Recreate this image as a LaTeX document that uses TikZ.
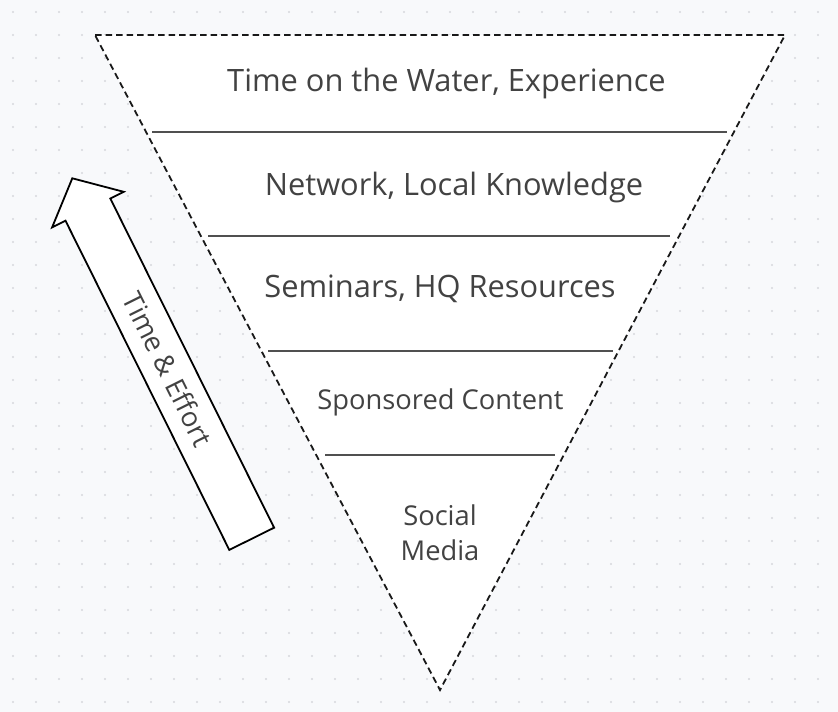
\documentclass[tikz,border=0pt]{standalone}
\usepackage{fontspec}
\setmainfont{Open Sans}
\definecolor{bg}{RGB}{248,249,251}
\definecolor{dotc}{RGB}{214,216,220}
\definecolor{txt}{RGB}{66,66,66}
\definecolor{sep}{RGB}{80,80,80}
\begin{document}
\begin{tikzpicture}[x=1pt,y=-1pt,
  lvl/.style={text=txt,font=\fontsize{30.8}{36}\selectfont,inner sep=0pt,anchor=base},
  lvlsmall/.style={text=txt,font=\fontsize{27.3}{35}\selectfont,inner sep=0pt,anchor=base},
  sepline/.style={draw=sep,line width=2pt},
  funnel/.style={draw=black!90,fill=white,line width=1.8pt,dash pattern=on 6.5pt off 4pt},
  bigarrow/.style={draw=black,fill=white,line width=1.8pt,line join=miter}]
\useasboundingbox (0,0) rectangle (838,712);
\fill[bg] (0,0) rectangle (838,712);
\foreach \i in {0,...,36} {
  \foreach \j in {0,...,30} {
    \fill[dotc] ({13+23*\i},{12+23*\j}) circle (1.2pt);
  }
}
% funnel
\coordinate (tl) at (95,35);
\coordinate (tr) at (785,35);
\coordinate (bt) at (440,690);
\draw[funnel] (tl) -- (tr) -- (bt) -- cycle;
% separators
\coordinate (s1a) at (152,132); \coordinate (s1b) at (727,132);
\coordinate (s2a) at (208,236); \coordinate (s2b) at (670,236);
\coordinate (s3a) at (268,351); \coordinate (s3b) at (613,351);
\coordinate (s4a) at (325,455); \coordinate (s4b) at (555,455);
\draw[sepline] (s1a) -- (s1b);
\draw[sepline] (s2a) -- (s2b);
\draw[sepline] (s3a) -- (s3b);
\draw[sepline] (s4a) -- (s4b);
% labels
\node[lvl] (l1) at (446.5,91) {Time on the Water, Experience};
\node[lvl] (l2) at (454,195) {Network, Local Knowledge};
\node[lvl] (l3) at (440,297.7) {Seminars, HQ Resources};
\node[lvlsmall] (l4) at (440.5,409.3) {Sponsored Content};
\node[lvlsmall] (l5a) at (440,525) {Social};
\node[lvlsmall] (l5b) at (440,560) {Media};
% arrow
\draw[bigarrow] (229.3,549.9) -- (274.1,527.7) -- (110.3,198.5) -- (123.7,191.8)
  -- (72.3,178.3) -- (52.1,227.4) -- (65.5,220.7) -- cycle;
\node[text=txt,font=\fontsize{27.3}{30}\selectfont,inner sep=0pt,rotate=-63.5] (te) at (168,369) {Time \& Effort};
\end{tikzpicture}
\end{document}
